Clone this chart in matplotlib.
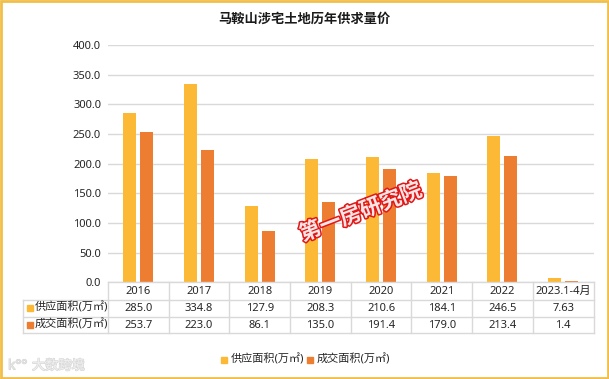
import matplotlib
matplotlib.use("Agg")
import matplotlib.pyplot as plt
import matplotlib.patheffects as pe
from matplotlib.patches import Rectangle
from matplotlib.transforms import blended_transform_factory

plt.rcParams['font.family'] = ['Noto Sans', 'Noto Sans CJK SC', 'DejaVu Sans']

categories = ['2016', '2017', '2018', '2019', '2020', '2021', '2022', '2023.1-4月']
supply = [285.0, 334.8, 127.9, 208.3, 210.6, 184.1, 246.5, 7.63]
deal = [253.7, 223.0, 86.1, 135.0, 191.4, 179.0, 213.4, 1.4]
supply_labels = ['285.0', '334.8', '127.9', '208.3', '210.6', '184.1', '246.5', '7.63']
deal_labels = ['253.7', '223.0', '86.1', '135.0', '191.4', '179.0', '213.4', '1.4']
series_names = ['供应面积(万㎡)', '成交面积(万㎡)']
yticks = [0, 50, 100, 150, 200, 250, 300, 350, 400]

YELLOW = '#FBB935'
ORANGE = '#ED7D31'
GRID = '#D9D9D9'
TXT = '#262626'

W, H = 609, 379
fig = plt.figure(figsize=(W / 100, H / 100), dpi=100, facecolor='white')

def fy(y):  # pixel row -> figure fraction
    return 1 - y / H

def fx(x):
    return x / W

# plot area: 0 at y=282.3, 400 at y=45, x from 108 to 593.5
ax = fig.add_axes([fx(108), fy(282.3), fx(593.5) - fx(108), (282.3 - 45) / H])
x = list(range(len(categories)))
ax.bar([i - 0.14 for i in x], supply, width=0.215, color=YELLOW, zorder=2)
ax.bar([i + 0.14 for i in x], deal, width=0.215, color=ORANGE, zorder=2)
ax.set_xlim(-0.5, len(categories) - 0.5)
ax.set_ylim(0, 400)
ax.set_yticks(yticks)
ax.set_yticklabels(['%.1f' % v for v in yticks], fontsize=8, color=TXT)
ax.tick_params(axis='y', length=0, pad=5)
ax.set_xticks([])
ax.grid(axis='y', color=GRID, linewidth=1, zorder=0)
for s in ax.spines.values():
    s.set_visible(False)

# data table under the axis
bt = blended_transform_factory(ax.transData, fig.transFigure)
ax.plot([-0.5, len(categories) - 0.5], [fy(282.3)] * 2, transform=bt,
        color=GRID, lw=1, clip_on=False)
for yy in [300, 316.7, 333]:
    fig.add_artist(plt.Line2D([fx(23), fx(593.5)], [fy(yy)] * 2, color=GRID, lw=1))
for b in range(len(categories) + 1):
    ax.plot([b - 0.5] * 2, [fy(282.3), fy(333)], transform=bt, color=GRID, lw=1, clip_on=False)
fig.add_artist(plt.Line2D([fx(23)] * 2, [fy(300), fy(333)], color=GRID, lw=1))

for i, c in enumerate(categories):
    ax.text(i, fy(291), c, transform=bt, ha='center', va='center', fontsize=8, color=TXT)
    ax.text(i, fy(308.3), supply_labels[i], transform=bt, ha='center', va='center', fontsize=8, color=TXT)
    ax.text(i, fy(325), deal_labels[i], transform=bt, ha='center', va='center', fontsize=8, color=TXT)

for name, col, yy in [(series_names[0], YELLOW, 308.3), (series_names[1], ORANGE, 325)]:
    fig.add_artist(Rectangle((fx(27), fy(yy + 3)), 6 / W, 6 / H, color=col, transform=fig.transFigure))
    fig.text(fx(35), fy(yy), name, ha='left', va='center', fontsize=8, color=TXT)

# legend
for name, col, lx in [(series_names[0], YELLOW, 221), (series_names[1], ORANGE, 307)]:
    fig.add_artist(Rectangle((fx(lx), fy(363)), 6 / W, 6 / H, color=col, transform=fig.transFigure))
    fig.text(fx(lx + 10), fy(360), name, ha='left', va='center', fontsize=8, color=TXT)

# title
fig.text(0.5, fy(19), '马鞍山涉宅土地历年供求量价', ha='center', va='center',
         fontsize=9.5, fontweight='bold', color='#1a1a1a')

# stamp
fig.text(fx(361), fy(213), '第一房研究院', ha='center', va='center', fontsize=15.5,
         rotation=21, color='#FFE6E6', fontweight='bold', zorder=10,
         path_effects=[pe.Stroke(linewidth=2.2, foreground='#E01818'), pe.Normal()])

# watermark
fig.text(fx(8), fy(366), 'k°°', ha='left', va='center', fontsize=10, color='#E6E6E6',
         path_effects=[pe.Stroke(linewidth=0.8, foreground='#D4D4D4'), pe.Normal()])
fig.text(fx(32), fy(366), '大数跨境', ha='left', va='center', fontsize=9.5,
         color='#F0F0F0',
         path_effects=[pe.Stroke(linewidth=1, foreground='#D8D8D8'), pe.Normal()])

# border
fig.add_artist(Rectangle((0.002, 0.003), 0.996, 0.994, fill=False, edgecolor='#F2BE4A',
                         lw=2, transform=fig.transFigure))

plt.savefig('out.png', dpi=100)
